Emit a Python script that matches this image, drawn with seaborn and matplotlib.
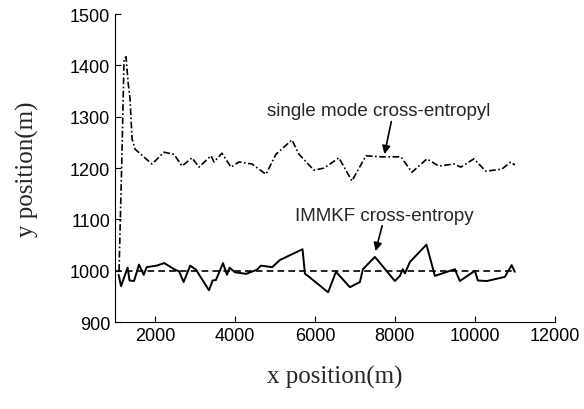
import pandas as pd
import matplotlib
matplotlib.use("Agg")
import matplotlib.pyplot as plt
import seaborn as sns

# values
single_x = [1100, 1175, 1225, 1275, 1325, 1375, 1425, 1500, 1775, 1925, 2225, 2475,
            2675, 2925, 3100, 3400, 3475, 3675, 3900, 4100, 4425, 4775, 5025, 5425,
            5600, 5975, 6225, 6600, 6925, 7275, 7675, 8150, 8425, 8800, 9100, 9475,
            9650, 9975, 10275, 10675, 10900, 11000]
single_y = [1000, 1233, 1413, 1417, 1368, 1335, 1257, 1237, 1218, 1208, 1231, 1227,
            1204, 1220, 1202, 1224, 1212, 1229, 1202, 1212, 1208, 1188, 1227, 1255,
            1227, 1196, 1200, 1220, 1175, 1224, 1222, 1222, 1192, 1218, 1204, 1208,
            1202, 1218, 1194, 1198, 1212, 1206]

immkf_x = [1090, 1150, 1250, 1315, 1362, 1475, 1600, 1717, 1790, 2042, 2230, 2500,
           2600, 2715, 2880, 3025, 3350, 3440, 3525, 3700, 3800, 3862, 4000, 4280,
           4550, 4650, 4930, 5125, 5690, 5750, 5825, 6330, 6525, 6875, 7125, 7200,
           7500, 8000, 8125, 8200, 8250, 8375, 8790, 9000, 9500, 9625, 10000, 10075,
           10300, 10750, 10920, 11000]
immkf_y = [992, 970, 992, 1006, 981, 980, 1012, 992, 1007, 1010, 1015, 1002,
           999, 978, 1010, 1002, 962, 981, 982, 1015, 992, 1006, 997, 994,
           1002, 1010, 1007, 1021, 1042, 994, 990, 958, 998, 968, 978, 1003,
           1027, 980, 990, 1003, 995, 1017, 1051, 990, 1003, 980, 1000, 981,
           980, 988, 1011, 998]

true_x = [1000, 11000]
true_y = [1000, 1000]

single_df = pd.DataFrame({"x": single_x, "y": single_y})
immkf_df = pd.DataFrame({"x": immkf_x, "y": immkf_y})
true_df = pd.DataFrame({"x": true_x, "y": true_y})

sns.set_style("ticks")
plt.rcParams["font.family"] = ["Liberation Sans", "DejaVu Sans"]

fig = plt.figure(figsize=(5.84, 4.10), dpi=100)
ax = fig.add_axes([0.197, 0.212, 0.753, 0.751])

sns.lineplot(data=true_df, x="x", y="y", ax=ax, color="black", lw=1.2,
             linestyle=(0, (4, 2.5)))
sns.lineplot(data=single_df, x="x", y="y", ax=ax, color="black", lw=1.2,
             linestyle=(0, (4, 1.5, 1, 1.5)), sort=False)
sns.lineplot(data=immkf_df, x="x", y="y", ax=ax, color="black", lw=1.4, sort=False)

ax.set_xlim(1000, 12000)
ax.set_ylim(900, 1500)
ax.set_xticks([2000, 4000, 6000, 8000, 10000, 12000])
ax.set_yticks([900, 1000, 1100, 1200, 1300, 1400, 1500])
ax.tick_params(direction="in", length=4, width=0.8, labelsize=13, colors="black")
for s in ["left", "bottom"]:
    ax.spines[s].set_color("black")
    ax.spines[s].set_linewidth(0.8)
sns.despine(ax=ax)

ax.set_xlabel("x position(m)", family=["Liberation Serif", "DejaVu Serif"],
              fontsize=18, labelpad=15)
ax.set_ylabel("y position(m)", family=["Liberation Serif", "DejaVu Serif"],
              fontsize=18, labelpad=22)

# annotations with arrows
ax.text(4800, 1304, "single mode cross-entropyl", fontsize=13.5, va="baseline")
ax.annotate("", xy=(7725, 1222), xytext=(7925, 1296),
            arrowprops=dict(arrowstyle="-|>", color="black", lw=1.2, mutation_scale=12))
ax.text(5500, 1099, "IMMKF cross-entropy", fontsize=13.5, va="baseline")
ax.annotate("", xy=(7500, 1033), xytext=(7700, 1093),
            arrowprops=dict(arrowstyle="-|>", color="black", lw=1.2, mutation_scale=12))

fig.savefig("out.png", dpi=100)
